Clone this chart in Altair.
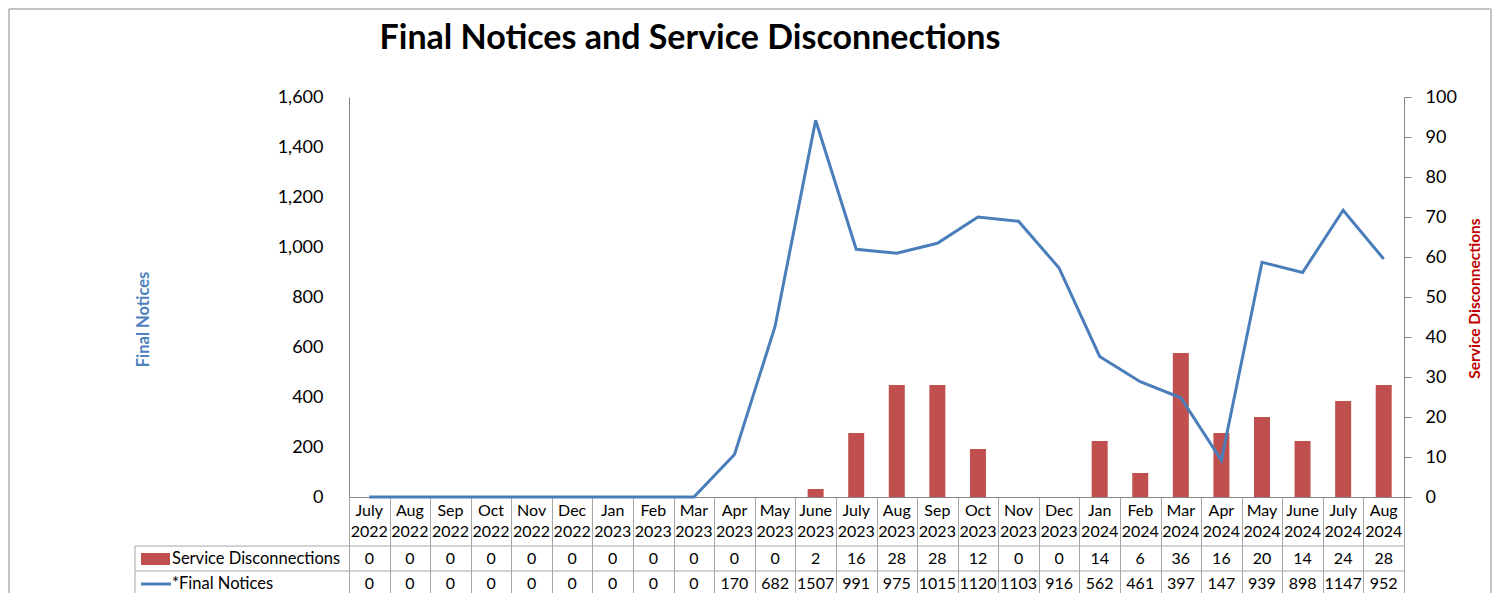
import altair as alt
import pandas as pd

months = ["July", "Aug", "Sep", "Oct", "Nov", "Dec",
          "Jan", "Feb", "Mar", "Apr", "May", "June", "July", "Aug", "Sep", "Oct", "Nov", "Dec",
          "Jan", "Feb", "Mar", "Apr", "May", "June", "July", "Aug"]
years = ["2022"] * 6 + ["2023"] * 12 + ["2024"] * 8
service_disconnections = [0, 0, 0, 0, 0, 0,
                          0, 0, 0, 0, 0, 2, 16, 28, 28, 12, 0, 0,
                          14, 6, 36, 16, 20, 14, 24, 28]
final_notices = [0, 0, 0, 0, 0, 0,
                 0, 0, 0, 170, 682, 1507, 991, 975, 1015, 1120, 1103, 916,
                 562, 461, 397, 147, 939, 898, 1147, 952]
left_ticks = [0, 200, 400, 600, 800, 1000, 1200, 1400, 1600]
right_ticks = [0, 10, 20, 30, 40, 50, 60, 70, 80, 90, 100]

cats = [f"{m} {y}" for m, y in zip(months, years)]
df = pd.DataFrame({"cat": cats, "month": months, "year": years,
                   "sd": service_disconnections, "fn": final_notices})

FONT = "Lato"
GRID = "#a6a6a6"
AXIS = "#868686"
BLUE = "#4a7ebb"
RED = "#c0504d"
W, H = 1055, 400
OX, OY = 349, 97  # plot origin on page (for decoration offsets)

x_enc = alt.X("cat:N", sort=cats,
              scale=alt.Scale(paddingInner=0, paddingOuter=0),
              axis=alt.Axis(labels=False, title=None, ticks=True, tickBand="extent",
                            tickSize=104, tickColor=GRID, domainColor=AXIS, grid=False))

base = alt.Chart(df)

bars = base.mark_bar(color=RED, width=16).encode(
    x=x_enc,
    y=alt.Y("sd:Q", scale=alt.Scale(domain=[0, 100], nice=False),
            axis=alt.Axis(orient="right", values=right_ticks, grid=False,
                          tickSize=7, tickColor=AXIS, domainColor=AXIS,
                          labelPadding=14, labelFontSize=18, labelColor="#000000",
                          title="Service Disconnections", titleX=70, titleY=201,
                          titleAngle=270, titleAlign="center", titleBaseline="middle",
                          titleColor="#c00000", titleFontSize=15.5, titleFontWeight="bold",
                          titleFont=FONT))
)

line = base.mark_line(color=BLUE, strokeWidth=3).encode(
    x=x_enc,
    y=alt.Y("fn:Q", scale=alt.Scale(domain=[0, 1600], nice=False),
            axis=alt.Axis(orient="left", values=left_ticks, format=",.0f", grid=False,
                          ticks=False, domainColor=AXIS, labelPadding=26,
                          labelFontSize=18, labelColor="#000000",
                          title="Final Notices", titleX=-206, titleY=222,
                          titleAngle=270, titleAlign="center", titleBaseline="middle",
                          titleColor="#4f81bd", titleFontSize=16.5, titleFontWeight="bold",
                          titleFont=FONT))
)

def row_text(field, ypix):
    return base.mark_text(font=FONT, fontSize=16, baseline="middle", color="#000000").encode(
        x=x_enc, y=alt.value(ypix - OY), text=f"{field}:N")

month_txt = row_text("month", 511)
year_txt = row_text("year", 532)
sd_txt = row_text("sd", 559)
fn_txt = row_text("fn", 584)

one = pd.DataFrame({"k": [0]})

def hrule(ypix):
    return alt.Chart(one).mark_rule(color=GRID, strokeWidth=1).encode(
        x=alt.value(135 - OX), x2=alt.value(W), y=alt.value(ypix - OY))

h1 = hrule(546)
h2 = hrule(571)
h3 = hrule(597)
vleft = alt.Chart(one).mark_rule(color=GRID, strokeWidth=1).encode(
    x=alt.value(135 - OX), y=alt.value(546 - OY), y2=alt.value(610 - OY))

swatch = alt.Chart(one).mark_rect(color=RED).encode(
    x=alt.value(141 - OX), x2=alt.value(170 - OX),
    y=alt.value(553 - OY), y2=alt.value(565 - OY))
legline = alt.Chart(one).mark_rule(color=BLUE, strokeWidth=3).encode(
    x=alt.value(141 - OX), x2=alt.value(171 - OX), y=alt.value(584 - OY))
leg_t1 = alt.Chart(one).mark_text(text="Service Disconnections", font=FONT, fontSize=16.5,
                                   align="left", baseline="middle", color="#000000").encode(
    x=alt.value(172 - OX), y=alt.value(559 - OY))
leg_t2 = alt.Chart(one).mark_text(text="*Final Notices", font=FONT, fontSize=16.5,
                                   align="left", baseline="middle", color="#000000").encode(
    x=alt.value(172 - OX), y=alt.value(584 - OY))

title = alt.Chart(one).mark_text(text="Final Notices and Service Disconnections", font=FONT,
                                  fontSize=34, fontWeight="bold", align="center",
                                  baseline="alphabetic", color="#000000").encode(
    x=alt.value(690 - OX), y=alt.value(49 - OY))

BL, BR, BT, BB = 9, 1491, 9, 640
border = [
    alt.Chart(one).mark_rule(color="#b0b0b0", strokeWidth=1.5).encode(
        x=alt.value(BL - OX), x2=alt.value(BR - OX), y=alt.value(BT - OY)),
    alt.Chart(one).mark_rule(color="#b0b0b0", strokeWidth=1.5).encode(
        x=alt.value(BL - OX), y=alt.value(BT - OY), y2=alt.value(BB - OY)),
    alt.Chart(one).mark_rule(color="#b0b0b0", strokeWidth=1.5).encode(
        x=alt.value(BR - OX), y=alt.value(BT - OY), y2=alt.value(BB - OY)),
]

chart = alt.layer(
    *border, bars, line, month_txt, year_txt, sd_txt, fn_txt,
    h1, h2, h3, vleft, swatch, legline, leg_t1, leg_t2, title
).resolve_scale(y="independent").properties(
    width=W, height=H,
    autosize=alt.AutoSizeParams(type="none"),
    padding={"left": 341, "top": 89, "right": 88, "bottom": 96},
    background="white",
).configure_view(stroke=None).configure_axis(labelFont=FONT, titleFont=FONT)

chart.save("out.html", embed_options={"renderer": "svg", "actions": False})
